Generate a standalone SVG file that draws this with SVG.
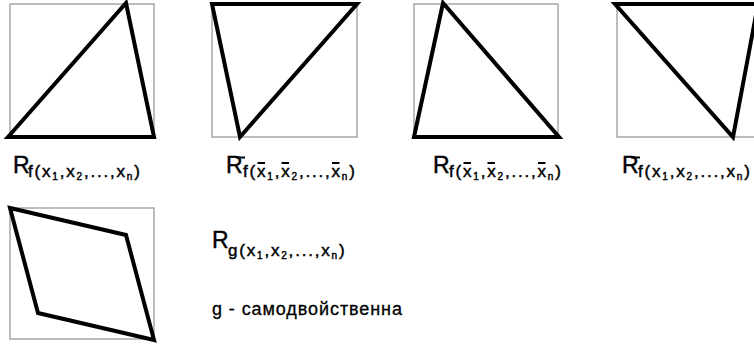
<svg xmlns="http://www.w3.org/2000/svg" width="754" height="346" viewBox="0 0 754 346">
<style>
.frame{fill:none;stroke:#a8a8a8;stroke-width:1.5}
.shape{fill:none;stroke:#000;stroke-width:4;stroke-linejoin:miter;stroke-miterlimit:10}
text{font-family:"Liberation Sans",Arial,sans-serif;fill:#000;stroke:#000;stroke-width:0.45}
.R{font-size:23px}
.s{font-size:17px;letter-spacing:1.8px}
.i{font-size:10px}
.t{font-size:18px;stroke-width:0.3}
.bar{stroke:#000;stroke-width:2}
</style>
<rect width="754" height="346" fill="#fff"/>
<g id="fig1">
<rect class="frame" x="10" y="4" width="144" height="133"/>
<polygon class="shape" points="8,137 126,3 154,137"/>
</g>
<g id="fig2">
<rect class="frame" x="212" y="4" width="145" height="133"/>
<polygon class="shape" points="212,4 357,4 240,137"/>
</g>
<g id="fig3">
<rect class="frame" x="414" y="4" width="144" height="133"/>
<polygon class="shape" points="414,137 443,3 559,137"/>
</g>
<g id="fig4">
<rect class="frame" x="617" y="4" width="144" height="133"/>
<polygon class="shape" points="615,4 758,4 733,137"/>
</g>
<g id="fig5">
<rect class="frame" x="10" y="208" width="144" height="131"/>
<polygon class="shape" points="10,208 126,235 154,340 38,313"/>
</g>
<g id="label1">
<text class="R" x="13" y="173">R</text>
<text class="s" x="28" y="177">f(x<tspan class="i" dy="3">1</tspan><tspan dy="-3">,x</tspan><tspan class="i" dy="3">2</tspan><tspan dy="-3">,...,x</tspan><tspan class="i" dy="3">n</tspan><tspan dy="-3">)</tspan></text>
</g>
<g id="label2">
<text class="R" x="226" y="173">R</text>
<text class="s" x="243" y="177">f(x<tspan class="i" dy="3">1</tspan><tspan dy="-3">,x</tspan><tspan class="i" dy="3">2</tspan><tspan dy="-3">,...,x</tspan><tspan class="i" dy="3">n</tspan><tspan dy="-3">)</tspan></text>
<path class="bar" d="M236,157.5h9M257.5,163h7.5M281.5,163h7.5M332,163h7.5"/>
</g>
<g id="label3">
<text class="R" x="433" y="173">R</text>
<text class="s" x="449" y="177">f(x<tspan class="i" dy="3">1</tspan><tspan dy="-3">,x</tspan><tspan class="i" dy="3">2</tspan><tspan dy="-3">,...,x</tspan><tspan class="i" dy="3">n</tspan><tspan dy="-3">)</tspan></text>
<path class="bar" d="M463.5,163h7.5M487.5,163h7.5M538,163h7.5"/>
</g>
<g id="label4">
<text class="R" x="622" y="173">R</text>
<text class="s" x="638" y="177">f(x<tspan class="i" dy="3">1</tspan><tspan dy="-3">,x</tspan><tspan class="i" dy="3">2</tspan><tspan dy="-3">,...,x</tspan><tspan class="i" dy="3">n</tspan><tspan dy="-3">)</tspan></text>
<path class="bar" d="M631,157.5h9"/>
</g>
<g id="label5">
<text class="R" x="212" y="248">R</text>
<text class="s" x="228" y="256">g(x<tspan class="i" dy="3">1</tspan><tspan dy="-3">,x</tspan><tspan class="i" dy="3">2</tspan><tspan dy="-3">,...,x</tspan><tspan class="i" dy="3">n</tspan><tspan dy="-3">)</tspan></text>
</g>
<g id="note">
<text class="t" x="212" y="315" textLength="190" lengthAdjust="spacing">g - самодвойственна</text>
</g>
</svg>
